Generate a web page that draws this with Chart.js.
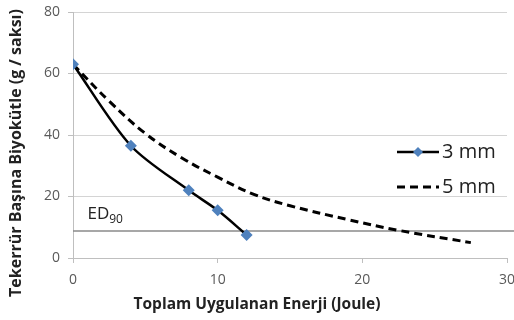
<!DOCTYPE html>
<html>
<head>
<meta charset="utf-8">
<script src="https://cdn.jsdelivr.net/npm/chart.js@4"></script>
<style>
  html, body { margin: 0; padding: 0; background: #fff; }
  #wrap { width: 514px; height: 320px; }
</style>
</head>
<body>
<div id="wrap"><canvas id="chart" width="514" height="320"></canvas></div>
<script>
// Data
const energy3 = [0, 4, 8, 10, 12];
const biomass3 = [63, 36.5, 22, 15.5, 7.5];

const energy5 = [0, 2.5, 5, 7.5, 10, 12.5, 15, 19, 22.5, 27.5];
const biomass5 = [63, 51, 40.5, 32.6, 26.3, 20.7, 17, 12.5, 9, 5];

const ed90Value = 8.8;
const ed90Span = [0, 30.5];

const seriesNames = ["3 mm", "5 mm"];
const xTitle = "Toplam Uygulanan Enerji (Joule)";
const yTitle = "Tekerrür Başına Biyokütle (g / saksı)";

const FONT = "'Open Sans', 'DejaVu Sans', sans-serif";
const toPoints = (xs, ys) => xs.map((x, i) => ({ x: x, y: ys[i] }));

// Legend, ED90 label and axis titles drawn over the plot
const overlayPlugin = {
  id: "overlay",
  afterDatasetsDraw(chart) {
    const ctx = chart.ctx;
    const x = chart.scales.x;
    const y = chart.scales.y;
    ctx.save();

    // ED90 label
    ctx.fillStyle = "#222";
    ctx.textBaseline = "alphabetic";
    ctx.font = "17px " + FONT;
    const edX = x.getPixelForValue(1);
    const edY = y.getPixelForValue(ed90Value) - 12;
    ctx.fillText("ED", edX, edY);
    const w = ctx.measureText("ED").width;
    ctx.font = "12px " + FONT;
    ctx.fillText("90", edX + w, edY + 4);

    // axis titles (centred on the figure, as in the original)
    ctx.font = "bold 15.5px " + FONT;
    ctx.textAlign = "center";
    ctx.textBaseline = "middle";
    ctx.fillText(xTitle, 257, 305);
    ctx.save();
    ctx.translate(16, 153);
    ctx.rotate(-Math.PI / 2);
    ctx.font = "bold 16px " + FONT;
    ctx.fillText(yTitle, 0, 0);
    ctx.restore();
    ctx.textAlign = "left";

    // legend
    const items = [
      { ds: chart.data.datasets[0], y: 152 },
      { ds: chart.data.datasets[1], y: 187 }
    ];
    items.forEach((it, i) => {
      ctx.strokeStyle = "#000";
      ctx.lineWidth = it.ds.borderWidth;
      ctx.setLineDash(it.ds.borderDash || []);
      ctx.beginPath();
      ctx.moveTo(397, it.y);
      ctx.lineTo(439, it.y);
      ctx.stroke();
      ctx.setLineDash([]);
      if (i === 0) {
        ctx.fillStyle = "#4F81BD";
        ctx.beginPath();
        ctx.moveTo(418, it.y - 5);
        ctx.lineTo(423, it.y);
        ctx.lineTo(418, it.y + 5);
        ctx.lineTo(413, it.y);
        ctx.closePath();
        ctx.fill();
      }
      ctx.fillStyle = "#222";
      ctx.font = "20px " + FONT;
      ctx.textBaseline = "middle";
      ctx.fillText(seriesNames[i], 442, it.y);
    });
    ctx.restore();
  }
};

new Chart(document.getElementById("chart"), {
  type: "scatter",
  data: {
    datasets: [
      {
        label: seriesNames[0],
        data: toPoints(energy3, biomass3),
        showLine: true,
        borderColor: "#000",
        borderWidth: 2.5,
        tension: 0.3,
        pointStyle: "rectRot",
        pointRadius: 6,
        pointBackgroundColor: "#4F81BD",
        pointBorderColor: "#4F81BD",
        pointBorderWidth: 0,
        order: 1
      },
      {
        label: seriesNames[1],
        data: toPoints(energy5, biomass5),
        showLine: true,
        borderColor: "#000",
        borderWidth: 3,
        borderDash: [8, 5],
        tension: 0.4,
        pointRadius: 0,
        order: 2
      },
      {
        label: "ED90",
        data: ed90Span.map(v => ({ x: v, y: ed90Value })),
        showLine: true,
        borderColor: "#8a8a8a",
        borderWidth: 1.5,
        pointRadius: 0,
        clip: false,
        order: 3
      }
    ]
  },
  plugins: [overlayPlugin],
  options: {
    responsive: false,
    animation: false,
    layout: { padding: { top: 12, right: 7, left: 0, bottom: 0 } },
    plugins: {
      legend: { display: false },
      tooltip: { enabled: false }
    },
    scales: {
      x: {
        type: "linear",
        min: 0,
        max: 30,
        ticks: { stepSize: 10, color: "#595959", font: { family: FONT, size: 14 }, padding: 9 },
        grid: { drawOnChartArea: false, drawTicks: true, tickLength: 5, tickColor: "#bfbfbf" },
        border: { display: true, color: "#bfbfbf" },
        afterFit(scale) { scale.height = 62; scale.paddingLeft = 0; scale.paddingRight = 0; }
      },
      y: {
        min: 0,
        max: 80,
        ticks: { stepSize: 20, color: "#595959", font: { family: FONT, size: 14 }, padding: 8 },
        grid: { color: "#d4d4d4", tickLength: 5, tickColor: "#bfbfbf" },
        border: { display: true, color: "#bfbfbf" },
        afterFit(scale) { scale.width = 73; scale.paddingTop = 0; scale.paddingBottom = 0; }
      }
    }
  }
});
</script>
</body>
</html>
